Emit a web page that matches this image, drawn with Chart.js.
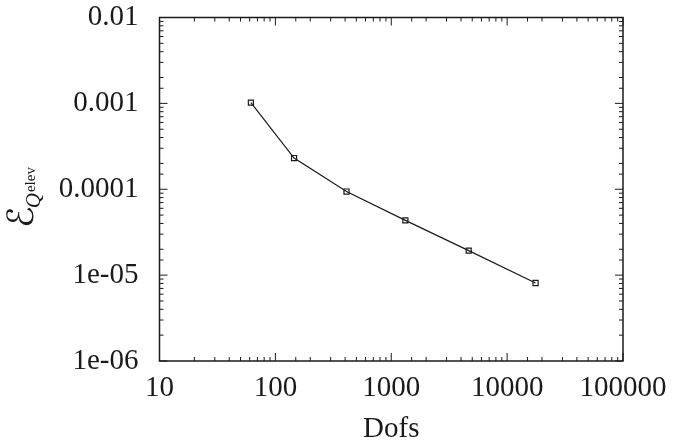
<!DOCTYPE html>
<html>
<head>
<meta charset="utf-8">
<script src="https://cdn.jsdelivr.net/npm/chart.js@4"></script>
<style>
  body { margin: 0; background: #fff; }
  canvas { display: block; }
</style>
</head>
<body>
<canvas id="errChart" width="677" height="444"></canvas>
<script>
// values
const dofs = [61.5, 145, 411, 1324, 4660, 17600];
const errQelev = [1.02e-3, 2.31e-4, 9.4e-5, 4.34e-5, 1.93e-5, 8.1e-6];

const xTickValues = [10, 100, 1000, 10000, 100000];
const xTickLabels = ['10', '100', '1000', '10000', '100000'];
const yTickValues = [1e-6, 1e-5, 1e-4, 1e-3, 1e-2];
const yTickLabels = ['1e-06', '1e-05', '0.0001', '0.001', '0.01'];

const serif = '"Liberation Serif", "Times New Roman", serif';
const ink = '#1a1a1a';

function isDecade(v) {
    const e = Math.log10(v);
    return Math.abs(e - Math.round(e)) < 1e-6;
}

function labelFor(values, labels) {
    return function (v) {
        if (!isDecade(v)) return '';
        const i = values.findIndex(t => Math.abs(Math.log10(t) - Math.log10(v)) < 1e-6);
        return i >= 0 ? labels[i] : '';
    };
}

// frame, inward ticks on all four sides, and the rotated y label
const framePlugin = {
    id: 'frame',
    afterDraw(chart) {
        const { ctx, chartArea: a, scales } = chart;
        ctx.save();
        ctx.strokeStyle = ink;
        ctx.lineWidth = 1;
        ctx.beginPath();
        scales.x.ticks.forEach(t => {
            const px = scales.x.getPixelForValue(t.value);
            const len = isDecade(t.value) ? 8 : 4;
            ctx.moveTo(px, a.bottom); ctx.lineTo(px, a.bottom - len);
            ctx.moveTo(px, a.top); ctx.lineTo(px, a.top + len);
        });
        scales.y.ticks.forEach(t => {
            const py = scales.y.getPixelForValue(t.value);
            const len = isDecade(t.value) ? 8 : 4;
            ctx.moveTo(a.left, py); ctx.lineTo(a.left + len, py);
            ctx.moveTo(a.right, py); ctx.lineTo(a.right - len, py);
        });
        ctx.stroke();
        ctx.lineWidth = 1.5;
        ctx.strokeRect(a.left, a.top, a.right - a.left, a.bottom - a.top);

        // y axis label: script E, subscript Q, superscript elev
        ctx.translate(33, 228);
        ctx.rotate(-Math.PI / 2);
        ctx.fillStyle = ink;
        ctx.textAlign = 'left';
        ctx.textBaseline = 'alphabetic';
        ctx.font = '36px "DejaVu Serif", "DejaVu Sans", serif';
        ctx.fillText('ℰ', 0, 0);
        let x = ctx.measureText('ℰ').width - 2;
        ctx.font = 'italic 21px ' + serif;
        ctx.fillText('Q', x, 7);
        x += ctx.measureText('Q').width + 1;
        ctx.font = '15px ' + serif;
        ctx.fillText('elev', x, 2);
        ctx.restore();
    }
};

const ctx = document.getElementById('errChart').getContext('2d');
const errChart = new Chart(ctx, {
    type: 'scatter',
    data: {
        datasets: [{
            data: dofs.map((d, i) => ({ x: d, y: errQelev[i] })),
            showLine: true,
            borderColor: ink,
            borderWidth: 1.2,
            pointStyle: 'rect',
            pointRadius: 3.6,
            pointBorderWidth: 1.2,
            pointBorderColor: ink,
            pointBackgroundColor: 'rgba(0,0,0,0)'
        }]
    },
    options: {
        responsive: false,
        animation: false,
        layout: { padding: { top: 17.5, right: 54, left: 0, bottom: 0 } },
        plugins: { legend: { display: false }, tooltip: { enabled: false } },
        scales: {
            x: {
                type: 'logarithmic', min: 10, max: 100000,
                grid: { display: false, drawTicks: false },
                border: { display: false },
                ticks: { autoSkip: false, maxRotation: 0, padding: 10, color: ink, font: { family: serif, size: 29 }, callback: labelFor(xTickValues, xTickLabels) },
                title: { display: true, text: 'Dofs', color: ink, font: { family: serif, size: 29, lineHeight: 1 }, padding: 0 },
                afterFit(s) { s.height = 83; s.paddingLeft = 0; s.paddingRight = 0; }
            },
            y: {
                type: 'logarithmic', min: 1e-6, max: 1e-2,
                grid: { display: false, drawTicks: false },
                border: { display: false },
                ticks: { autoSkip: false, padding: 21, color: ink, font: { family: serif, size: 29 }, callback: labelFor(yTickValues, yTickLabels) },
                afterFit(s) { s.width = 159.5; s.paddingTop = 0; s.paddingBottom = 0; }
            }
        }
    },
    plugins: [framePlugin]
});
</script>
</body>
</html>
